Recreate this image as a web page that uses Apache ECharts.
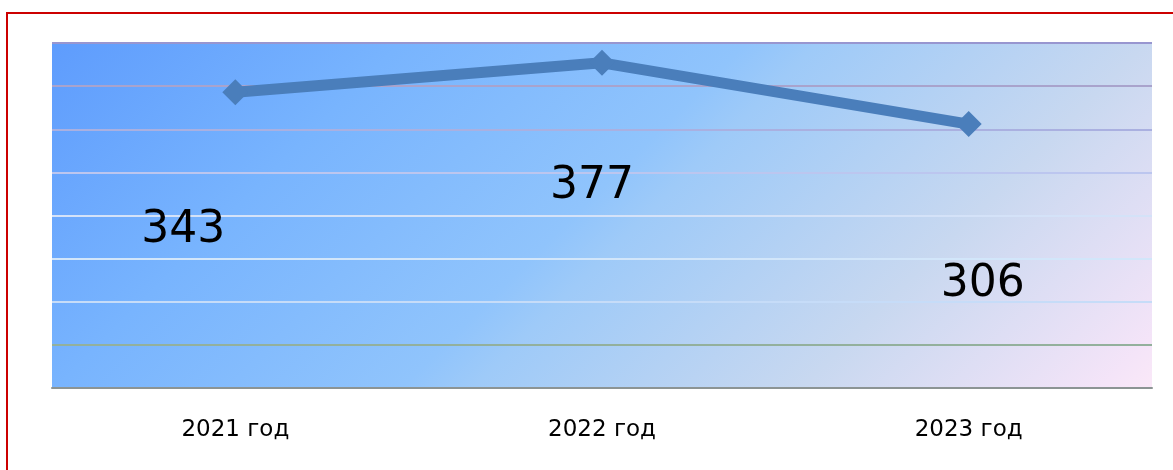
<!DOCTYPE html>
<html>
<head>
<meta charset="utf-8">
<script src="https://cdn.jsdelivr.net/npm/echarts@6/dist/echarts.min.js"></script>
<style>
html,body{margin:0;padding:0;width:1173px;height:470px;overflow:hidden;background:#fff;}
#frame{position:absolute;left:6px;top:12px;width:1200px;height:500px;border:2px solid #cc0000;box-sizing:border-box;}
#chart{position:absolute;left:0;top:0;width:1173px;height:470px;}
</style>
</head>
<body>
<div id="frame"></div>
<div id="chart"></div>
<script>
const categories = ['2021 год', '2022 год', '2023 год'];
const values = [343, 377, 306];
const yMin = 0, yMax = 400, yStep = 50;

const labelOffsets = [[-52, 138], [-10, 124], [14, 160]];

const chart = echarts.init(document.getElementById('chart'));
chart.setOption({
  animation: false,
  grid: {
    left: 52, right: 21, top: 43, bottom: 82,
    show: true,
    borderWidth: 0,
    backgroundColor: new echarts.graphic.LinearGradient(52, 43, 774, 765, [
      {offset: 0, color: '#5e9cfd'},
      {offset: 0.242, color: '#78b4fe'},
      {offset: 0.481, color: '#90c4fc'},
      {offset: 0.53, color: '#9ecaf8'},
      {offset: 0.758, color: '#c8d8f0'},
      {offset: 0.965, color: '#f4e4f8'},
      {offset: 1, color: '#fae8f8'}
    ], true)
  },
  xAxis: {
    type: 'category',
    data: categories,
    boundaryGap: true,
    axisLine: {show: true, lineStyle: {color: '#8c9494', width: 2}},
    axisTick: {show: false},
    axisLabel: {color: '#000', fontSize: 23, fontFamily: 'DejaVu Sans', margin: 31}
  },
  yAxis: {
    type: 'value',
    min: yMin, max: yMax, interval: yStep,
    axisLabel: {show: false},
    axisLine: {show: false},
    axisTick: {show: false},
    splitLine: {
      show: true,
      lineStyle: {
        width: 2,
        color: ['#8c9494', '#93b09c', '#c6dcf8', '#d2e6fa', '#d4e2f8', '#bcc6ef', '#aab0e0', '#a9a3cc', '#9896d0']
      }
    }
  },
  series: [{
    type: 'line',
    data: values.map((v, i) => ({
      value: v,
      label: {offset: labelOffsets[i]}
    })),
    symbol: 'diamond',
    symbolSize: 26,
    lineStyle: {color: '#4a7ebb', width: 11},
    itemStyle: {color: '#4a7ebb'},
    label: {
      show: true,
      position: 'inside',
      color: '#000',
      fontSize: 44,
      fontFamily: 'DejaVu Sans'
    }
  }]
});
</script>
</body>
</html>
